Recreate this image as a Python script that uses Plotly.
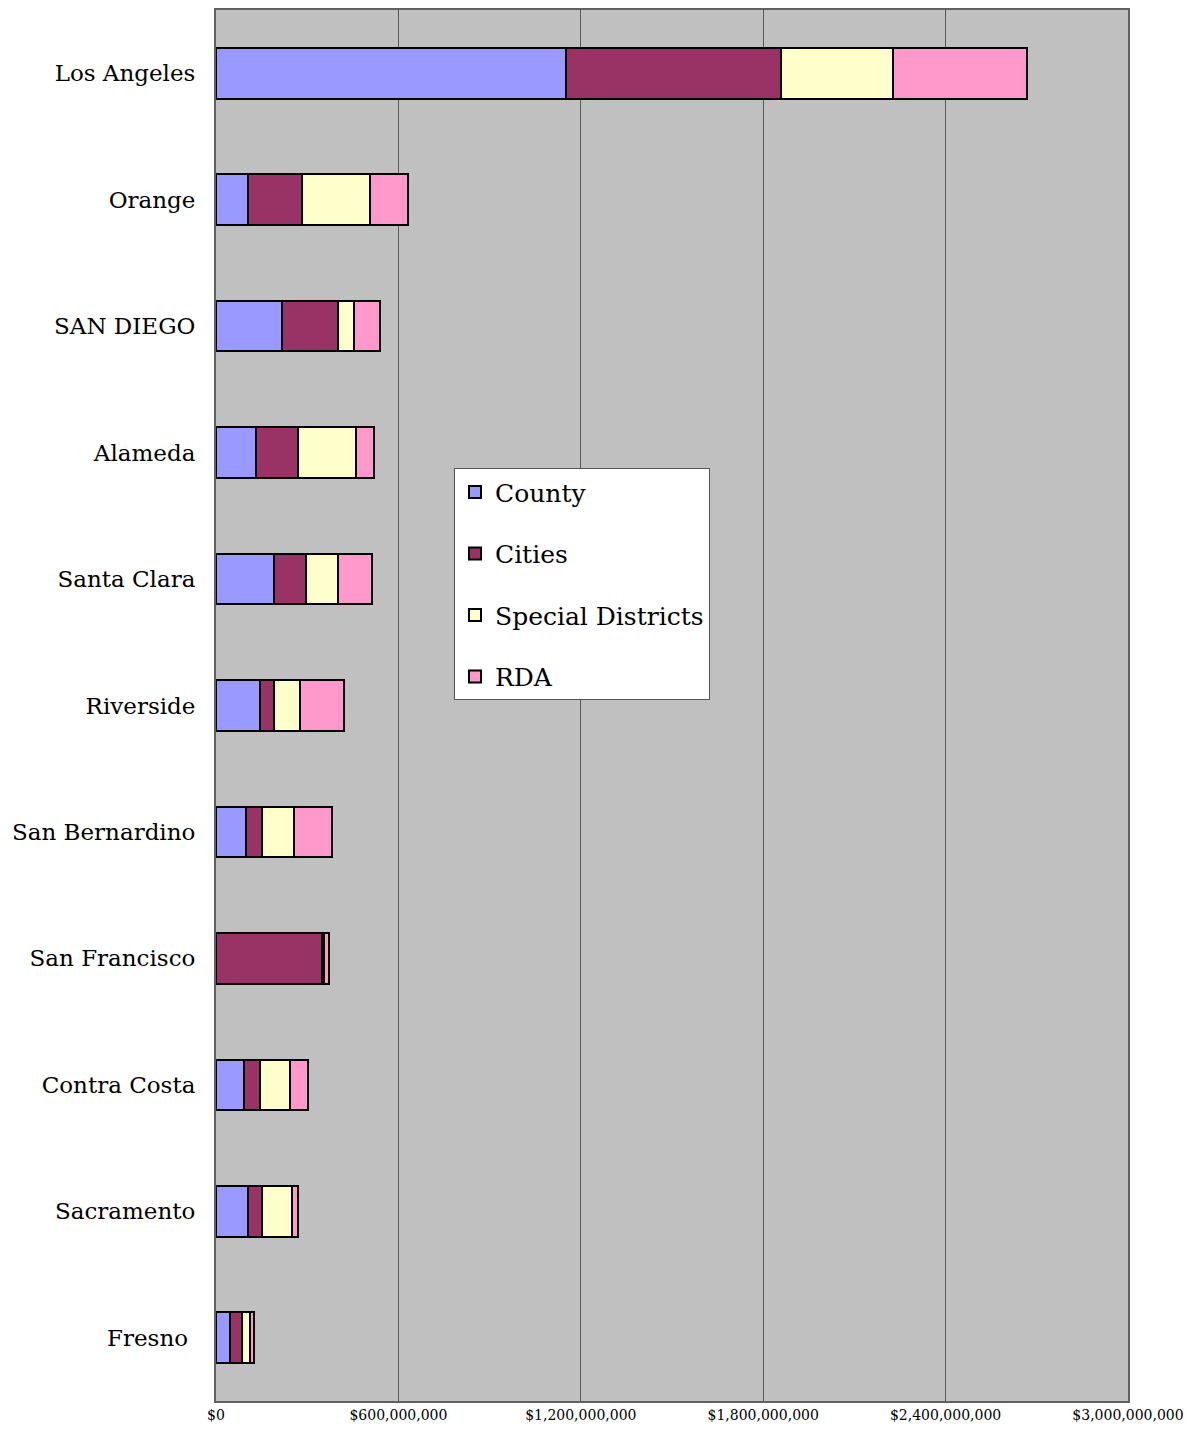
import plotly.graph_objects as go

counties = ["Los Angeles", "Orange", "SAN DIEGO", "Alameda", "Santa Clara", "Riverside",
            "San Bernardino", "San Francisco", "Contra Costa", "Sacramento", "Fresno\u00a0"]

# values in dollars
county_vals = [1152e6, 105e6, 217e6, 132e6, 191e6, 145e6, 99e6, 0, 92e6, 105e6, 46e6]
cities_vals = [705e6, 178e6, 185e6, 138e6, 105e6, 46e6, 52e6, 349e6, 53e6, 46e6, 40e6]
special_vals = [369e6, 224e6, 52e6, 191e6, 106e6, 86e6, 106e6, 6e6, 99e6, 99e6, 26e6]
rda_vals = [441e6, 125e6, 86e6, 59e6, 112e6, 144e6, 125e6, 17e6, 59e6, 20e6, 13e6]

tick_vals = [0, 600e6, 1200e6, 1800e6, 2400e6, 3000e6]
tick_text = ["$0", "$600,000,000", "$1,200,000,000", "$1,800,000,000", "$2,400,000,000", "$3,000,000,000"]

series = [
    ("County", county_vals, "#9999FF"),
    ("Cities", cities_vals, "#993366"),
    ("Special Districts", special_vals, "#FFFFCC"),
    ("RDA", rda_vals, "#FF99CC"),
]

fig = go.Figure()
for name, vals, color in series:
    fig.add_trace(go.Bar(
        y=counties, x=vals, name=name, orientation="h",
        legendgroup=name,
        marker=dict(color=color, line=dict(color="black", width=2)),
    ))

fig.update_layout(
    barmode="stack",
    bargap=0.6,
    width=1199, height=1432,
    margin=dict(l=208, r=79, t=0, b=39),
    paper_bgcolor="white",
    plot_bgcolor="#C0C0C0",
    font=dict(family="DejaVu Serif", color="black"),
    legend=dict(
        x=(454 - 216) / 912, y=(1401 - 467) / 1393,
        xanchor="left", yanchor="top",
        bgcolor="white", bordercolor="#555555", borderwidth=1,
        font=dict(size=25, family="DejaVu Serif"),
        tracegroupgap=26,
        traceorder="grouped",
    ),
    xaxis=dict(
        range=[0, 3e9],
        tickvals=tick_vals, ticktext=tick_text,
        tickfont=dict(size=14, family="DejaVu Serif"),
        showgrid=True, gridcolor="#5a5a5a", gridwidth=1,
        showline=True, linecolor="#606060", linewidth=2, mirror=True,
        zeroline=False, ticks="",
    ),
    yaxis=dict(
        autorange="reversed",
        tickfont=dict(size=23, family="DejaVu Serif"),
        showline=True, linecolor="#606060", linewidth=2, mirror=True,
        showgrid=False, ticks="", ticklabelstandoff=14,
    ),
)

fig.write_html("out.html")
